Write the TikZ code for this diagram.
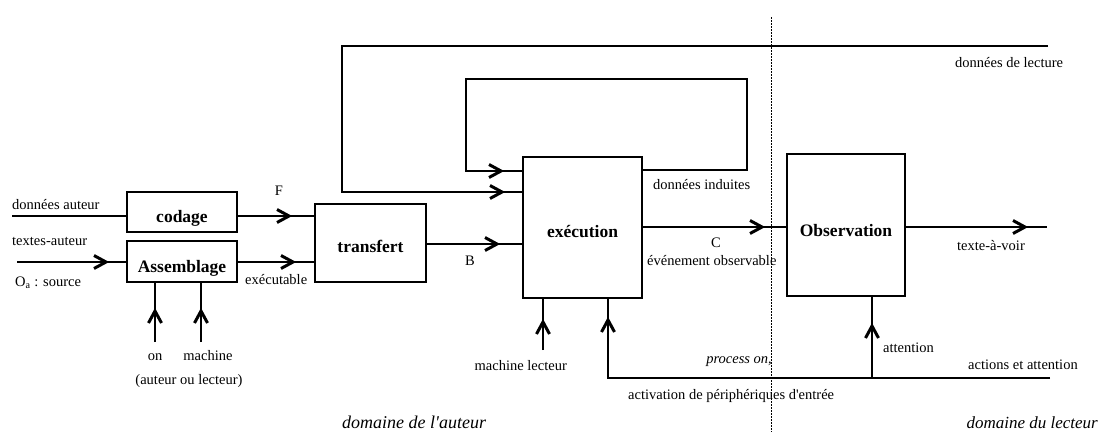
\documentclass[tikz,border=0pt]{standalone}
\usepackage{fontspec}
\setmainfont{Liberation Serif}
\usetikzlibrary{arrows.meta,decorations.markings}
\tikzset{
  box/.style={draw, line width=2pt, inner sep=0pt, font=\fontsize{17.5}{20}\selectfont\bfseries},
  wire/.style={line width=2pt},
  arr/.style={postaction={decorate},decoration={markings,mark=at position #1 with {\draw[line width=3pt, line join=miter, solid] (-12pt,-6.5pt) -- (0pt,0pt) -- (-12pt,6.5pt);}}},
  lbl/.style={inner sep=0pt, font=\fontsize{14.5}{16}\selectfont},
  dom/.style={inner sep=0pt, font=\fontsize{#1}{20}\selectfont\itshape},
}
\newcommand{\boxtext}[2]{\raisebox{#1}[0pt][0pt]{#2}}
\begin{document}
\begin{tikzpicture}[x=1pt,y=-1pt]
\useasboundingbox (0,0) rectangle (1102,432);
% boxes
\node[box, minimum width=110pt, minimum height=40pt] (codage) at (182,212) {\boxtext{-10pt}{codage}};
\node[box, minimum width=110pt, minimum height=41pt] (assem) at (182,261.5) {\boxtext{-10.5pt}{Assemblage}};
\node[box, minimum width=111pt, minimum height=78pt] (transf) at (370.5,242.5) {\boxtext{-9.5pt}{transfert}};
\node[box, minimum width=119pt, minimum height=141pt] (exec) at (582.5,227.5) {\boxtext{-9.5pt}{exécution}};
\node[box, minimum width=118pt, minimum height=142pt] (obs) at (846,225) {\boxtext{-11pt}{Observation}};
% divider
\coordinate (dtop) at (771,17);
\coordinate (dbot) at (771,432);
\draw[line width=0.8pt, dash pattern=on 2pt off 1pt] (dtop) -- (dbot);
% inputs
\coordinate (da) at (12,216);
\draw[wire] (da) -- (da -| codage.west);
\draw[wire, arr=-25pt] (codage.east |- da) -- (transf.west |- da);
\coordinate (ta) at (17,262);
\draw[wire, arr=-20pt] (ta) -- (ta -| assem.west);
\draw[wire, arr=-21pt] (assem.east |- ta) -- (transf.west |- ta);
\coordinate (on) at (155,342);
\coordinate (ma) at (201,342);
\draw[wire, arr=-28pt] (on) -- (on |- assem.south);
\draw[wire, arr=-28pt] (ma) -- (ma |- assem.south);
\coordinate (tb) at (426,244);
\draw[wire, arr=-25pt] (tb) -- (tb -| exec.west);
% outer loop
\coordinate (tr) at (1048,46);
\coordinate (tl) at (342,46);
\coordinate (bl) at (342,192);
\draw[wire, arr=-20pt] (tr) -- (tl) -- (bl) -- (bl -| exec.west);
% inner loop
\coordinate (ir) at (747,170);
\coordinate (irt) at (747,79);
\coordinate (ilt) at (466,79);
\coordinate (il) at (466,171);
\draw[wire, arr=-21pt] (ir -| exec.east) -- (ir) -- (irt) -- (ilt) -- (il) -- (il -| exec.west);
% execution -> observation -> out
\coordinate (eo) at (642,227);
\draw[wire, arr=-24pt] (eo) -- (eo -| obs.west);
\coordinate (out) at (1047,227);
\draw[wire, arr=-22pt] (obs.east |- out) -- (out);
% bottom
\coordinate (ml) at (543,350);
\draw[wire, arr=-23pt] (ml) -- (ml |- exec.south);
\coordinate (br) at (1050,378);
\coordinate (bk) at (608,378);
\draw[wire, arr=-21pt] (br) -- (bk) -- (bk |- exec.south);
\coordinate (at) at (872,378);
\draw[wire, arr=-29pt] (at) -- (at |- obs.south);
% labels
\node[lbl, anchor=base west] (l1) at (12,209) {données auteur};
\node[lbl, anchor=base] (l2) at (279,195) {F};
\node[lbl, anchor=base west] (l3) at (12,245) {textes-auteur};
\node[lbl, anchor=base west] (l4) at (15,286) {O\textsubscript{a} : source};
\node[lbl, anchor=base west] (l5) at (245,284) {exécutable};
\node[lbl, anchor=base] (l6) at (155,360) {on};
\node[lbl, anchor=base] (l7) at (208,360) {machine};
\node[lbl, anchor=base] (l8) at (189,384) {(auteur ou lecteur)};
\node[lbl, anchor=base] (l9) at (470,265) {B};
\node[lbl, anchor=base west] (l10) at (653,189) {données induites};
\node[lbl, anchor=base] (l11) at (716,247) {C};
\node[lbl, anchor=base west] (l12) at (647,265) {événement observable};
\node[lbl, anchor=base west] (l13) at (955,67) {données de lecture};
\node[lbl, anchor=base west] (l14) at (957,250) {texte-à-voir};
\node[lbl, anchor=base east] (l15) at (567,370) {machine lecteur};
\node[lbl, anchor=base west] (l16) at (883,352) {attention};
\node[lbl, anchor=base west] (l17) at (968,369) {actions et attention};
\node[lbl, anchor=base east] (l18) at (772,363) {\itshape process on\upshape ,};
\node[lbl, anchor=base west] (l19) at (628,399) {activation de périphériques d\textquotesingle entrée};
\node[dom=18, anchor=base west] (l20) at (342,428) {domaine de l\textquotesingle auteur};
\node[dom=17, anchor=base east] (l21) at (1098,428) {domaine du lecteur};
\end{tikzpicture}
\end{document}
